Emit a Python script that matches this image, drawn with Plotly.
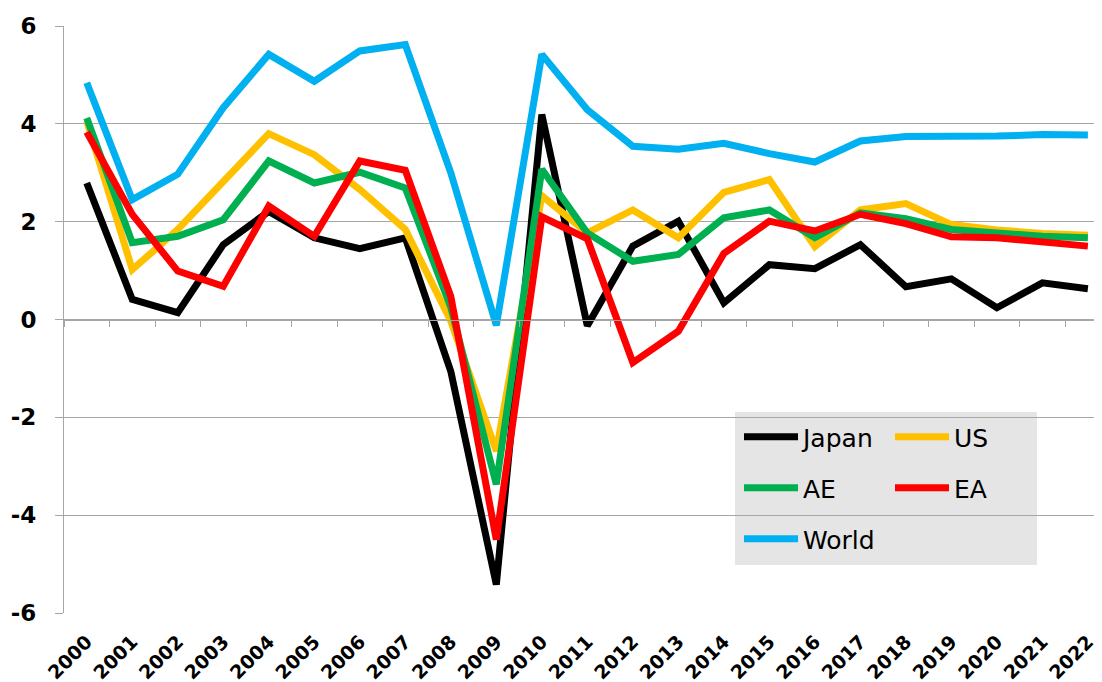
import plotly.graph_objects as go

years = ["2000", "2001", "2002", "2003", "2004", "2005", "2006", "2007", "2008", "2009", "2010",
         "2011", "2012", "2013", "2014", "2015", "2016", "2017", "2018", "2019", "2020", "2021", "2022"]

japan = [2.79, 0.41, 0.14, 1.53, 2.21, 1.67, 1.45, 1.67, -1.06, -5.42, 4.19, -0.13, 1.50, 2.01, 0.34,
         1.12, 1.04, 1.53, 0.67, 0.83, 0.24, 0.75, 0.63]
us = [4.06, 1.02, 1.84, 2.83, 3.80, 3.37, 2.66, 1.84, -0.03, -2.69, 2.53, 1.77, 2.24, 1.67, 2.60,
      2.86, 1.49, 2.24, 2.37, 1.94, 1.83, 1.76, 1.72]
ae = [4.12, 1.57, 1.70, 2.04, 3.24, 2.79, 3.01, 2.69, 0.25, -3.37, 3.07, 1.77, 1.19, 1.33, 2.08,
      2.24, 1.67, 2.18, 2.06, 1.84, 1.77, 1.70, 1.67]
ea = [3.83, 2.15, 0.99, 0.68, 2.32, 1.70, 3.24, 3.05, 0.47, -4.50, 2.10, 1.65, -0.88, -0.24, 1.35,
      2.01, 1.81, 2.15, 1.96, 1.69, 1.67, 1.57, 1.50]
world = [4.84, 2.45, 2.97, 4.33, 5.42, 4.87, 5.49, 5.62, 3.00, -0.12, 5.42, 4.29, 3.54, 3.48, 3.60,
         3.39, 3.22, 3.65, 3.74, 3.73, 3.75, 3.78, 3.77]

y_ticks = [-6, -4, -2, 0, 2, 4, 6]
y_ticklabels = ["-6", "-4", "-2", "0", "2", "4", "6"]

series = [
    ("Japan", japan, "#000000", "legend"),
    ("US", us, "#FFC000", "legend2"),
    ("AE", ae, "#00B050", "legend3"),
    ("EA", ea, "#FF0000", "legend4"),
    ("World", world, "#00B0F0", "legend5"),
]

# the page body adds an 8px offset, so the figure is sized to fit the window
OFF = 8
W, H = 1102 - OFF, 682 - OFF
L, R, T, B = 64 - OFF, 0, 26 - OFF, 69
pw = W - L - R
ph = H - T - B


def px_x(p):
    return (p - OFF - L) / pw


def px_y(p):
    return (H - B - (p - OFF)) / ph


fig = go.Figure()
for name, vals, color, lg in series:
    fig.add_trace(go.Scatter(x=years, y=vals, name=name, mode="lines",
                             line=dict(color=color, width=7), legend=lg))

# helper axis at y=0 carrying the tick marks between categories
fig.add_trace(go.Scatter(x=years, y=[None] * len(years), xaxis="x2", showlegend=False,
                         hoverinfo="skip", mode="lines"))

xr = [-0.5, 22.31]
grid = "#A6A6A6"
fig.update_layout(
    width=W, height=H,
    margin=dict(l=L, r=R, t=T, b=B, pad=0),
    paper_bgcolor="white", plot_bgcolor="white",
    font=dict(family="DejaVu Sans", color="black"),
    xaxis=dict(type="category", categoryorder="array", categoryarray=years, range=xr,
               tickangle=-45, tickfont=dict(size=19, weight="bold", family="DejaVu Sans"),
               showgrid=False, zeroline=False, showline=False, ticks="", ticklabelstandoff=13,
               automargin=False),
    xaxis2=dict(type="category", categoryorder="array", categoryarray=years, range=xr,
                overlaying="x", anchor="free", position=0.5, tickson="boundaries",
                ticks="outside", ticklen=6, tickcolor=grid, showticklabels=False,
                showline=True, linecolor=grid, linewidth=1, showgrid=False, zeroline=False,
                automargin=False),
    yaxis=dict(range=[-6, 6], tickvals=y_ticks, ticktext=y_ticklabels,
               tickfont=dict(size=23, weight="bold", family="DejaVu Sans"),
               showgrid=True, gridcolor=grid, gridwidth=1, zeroline=False,
               showline=True, linecolor=grid, linewidth=1, ticks="outside", ticklen=8,
               tickcolor=grid, ticklabelstandoff=14, automargin=False),
    showlegend=True,
)

legend_font = dict(family="DejaVu Sans", size=25, color="black")
positions = {"legend": (739, 437), "legend2": (890, 437), "legend3": (739, 488),
             "legend4": (890, 488), "legend5": (739, 539)}
for lg, (lx, ly) in positions.items():
    fig.update_layout({lg: dict(x=px_x(lx), y=px_y(ly), xanchor="left", yanchor="middle",
                                bgcolor="rgba(0,0,0,0)", borderwidth=0, font=legend_font,
                                itemwidth=54)})

fig.add_shape(type="rect", xref="paper", yref="paper",
              x0=px_x(735), x1=px_x(1037), y0=px_y(565), y1=px_y(412),
              fillcolor="#E5E5E5", line=dict(width=0), layer="between")

fig.write_html("out.html")
